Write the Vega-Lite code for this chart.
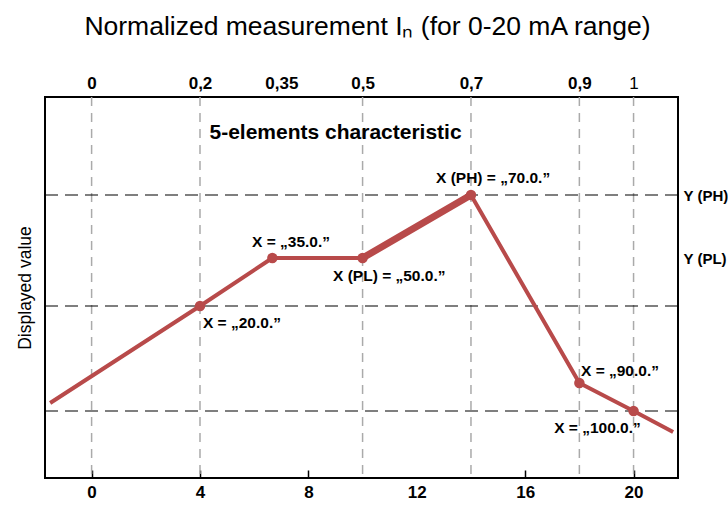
{
  "$schema": "https://vega.github.io/schema/vega-lite/v6.json",
  "width": 633,
  "height": 381,
  "autosize": "none",
  "padding": {"left": 45, "top": 97, "right": 50, "bottom": 27},
  "background": "white",
  "config": {
    "view": {"stroke": "black", "strokeWidth": 2},
    "font": "Liberation Sans"
  },
  "title": {
    "text": "Normalized measurement Iₙ (for 0-20 mA range)",
    "fontSize": 26.5,
    "fontWeight": "normal",
    "font": "Liberation Sans",
    "color": "black",
    "anchor": "middle",
    "offset": 34,
    "dx": 6
  },
  "datasets": {
    "curve": [
      {"mA": -1.53, "v": 75},
      {"mA": 4, "v": 172},
      {"mA": 6.67, "v": 220},
      {"mA": 10, "v": 220},
      {"mA": 14, "v": 283},
      {"mA": 18, "v": 95},
      {"mA": 20, "v": 67},
      {"mA": 21.46, "v": 46}
    ],
    "thick": [
      {"mA": 10, "v": 220},
      {"mA": 14, "v": 283}
    ],
    "points": [
      {"mA": 4, "v": 172},
      {"mA": 6.67, "v": 220},
      {"mA": 10, "v": 220},
      {"mA": 14, "v": 283},
      {"mA": 18, "v": 95},
      {"mA": 20, "v": 67}
    ],
    "vlines": [{"mA": 0}, {"mA": 4}, {"mA": 10}, {"mA": 14}, {"mA": 18}, {"mA": 20}],
    "hlines": [{"v": 283}, {"v": 172}, {"v": 67}],
    "labels": [
      {"mA": 4.11, "v": 155, "text": "X = „20.0.”"},
      {"mA": 5.92, "v": 236, "text": "X = „35.0.”"},
      {"mA": 8.91, "v": 202, "text": "X (PL) = „50.0.”"},
      {"mA": 12.71, "v": 300, "text": "X (PH) = „70.0.”"},
      {"mA": 18.06, "v": 107, "text": "X = „90.0.”"},
      {"mA": 17.07, "v": 50, "text": "X = „100.0.”"}
    ],
    "heading": [{"mA": 4.35, "v": 345, "text": "5-elements characteristic"}]
  },
  "resolve": {"axis": {"x": "independent", "y": "independent"}},
  "layer": [
    {
      "data": {"name": "vlines"},
      "mark": {"type": "rule", "color": "#aaaaaa", "strokeWidth": 1.5, "strokeDash": [9, 7]},
      "encoding": {
        "x": {
          "field": "mA", "type": "quantitative",
          "scale": {"domain": [-1.72, 21.64], "nice": false, "zero": false},
          "axis": {
            "orient": "bottom",
            "values": [0, 4, 8, 12, 16, 20],
            "title": null,
            "grid": false,
            "domain": false,
            "tickSize": -8,
            "tickColor": "black",
            "tickWidth": 1.5,
            "tickOpacity": {"condition": {"test": "datum.value == 12", "value": 0}, "value": 1},
            "labelFont": "Liberation Sans",
            "labelFontWeight": "bold",
            "labelFontSize": 17,
            "labelColor": "black",
            "labelPadding": 14
          }
        }
      }
    },
    {
      "data": {"name": "hlines"},
      "mark": {"type": "rule", "color": "black", "strokeWidth": 1.2, "strokeDash": [13, 7]},
      "encoding": {
        "y": {
          "field": "v", "type": "quantitative",
          "scale": {"domain": [0, 381], "nice": false},
          "axis": {
            "orient": "left",
            "title": "Displayed value",
            "titleFont": "Liberation Sans",
            "titleFontSize": 17.5,
            "titleFontWeight": "normal",
            "titleColor": "black",
            "titlePadding": 11,
            "labels": false,
            "ticks": false,
            "domain": false,
            "grid": false
          }
        }
      }
    },
    {
      "data": {"name": "curve"},
      "mark": {"type": "line", "color": "#b84a4a", "strokeWidth": 4, "strokeJoin": "round"},
      "encoding": {
        "x": {
          "field": "mA", "type": "quantitative",
          "axis": {
            "orient": "top",
            "values": [0, 4, 7, 10, 14, 18, 20],
            "labelExpr": "replace(toString(datum.value / 20), '.', ',')",
            "title": null,
            "grid": false,
            "domain": false,
            "ticks": false,
            "labelFont": "Liberation Sans",
            "labelFontWeight": {"condition": {"test": "datum.value == 20", "value": "normal"}, "value": "bold"},
            "labelFontSize": 17,
            "labelColor": "black",
            "labelPadding": 5
          }
        },
        "y": {"field": "v", "type": "quantitative", "axis": null}
      }
    },
    {
      "data": {"name": "thick"},
      "mark": {"type": "line", "color": "#b84a4a", "strokeWidth": 7, "strokeCap": "round"},
      "encoding": {
        "x": {"field": "mA", "type": "quantitative", "axis": null},
        "y": {"field": "v", "type": "quantitative", "axis": null}
      }
    },
    {
      "data": {"name": "points"},
      "mark": {"type": "circle", "color": "#b84a4a", "opacity": 1, "size": 110},
      "encoding": {
        "x": {"field": "mA", "type": "quantitative", "axis": null},
        "y": {"field": "v", "type": "quantitative", "axis": null}
      }
    },
    {
      "data": {"name": "labels"},
      "mark": {"type": "text", "align": "left", "baseline": "middle", "font": "Liberation Sans", "fontWeight": "bold", "fontSize": 15.5, "color": "black"},
      "encoding": {
        "x": {"field": "mA", "type": "quantitative", "axis": null},
        "y": {"field": "v", "type": "quantitative", "axis": null},
        "text": {"field": "text"}
      }
    },
    {
      "data": {"name": "heading"},
      "mark": {"type": "text", "align": "left", "baseline": "middle", "font": "Liberation Sans", "fontWeight": "bold", "fontSize": 21, "color": "black"},
      "encoding": {
        "x": {"field": "mA", "type": "quantitative", "axis": null},
        "y": {
          "field": "v", "type": "quantitative",
          "axis": {
            "orient": "right",
            "values": [283, 220],
            "labelExpr": "datum.value == 283 ? 'Y (PH)' : 'Y (PL)'",
            "title": null,
            "grid": false,
            "domain": false,
            "ticks": false,
            "labelFont": "Liberation Sans",
            "labelFontWeight": "bold",
            "labelFontSize": 15,
            "labelColor": "black",
            "labelPadding": 5
          }
        },
        "text": {"field": "text"}
      }
    }
  ]
}
